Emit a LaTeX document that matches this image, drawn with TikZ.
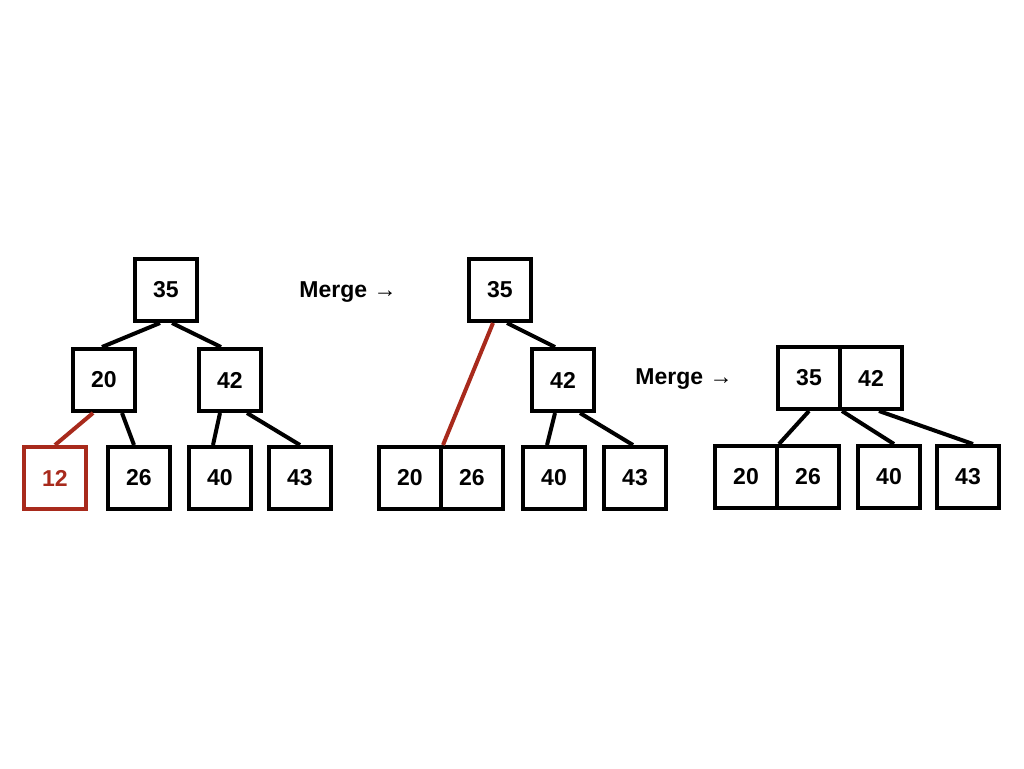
\documentclass[tikz,border=0pt]{standalone}
\usepackage{fontspec}
\setmainfont{Liberation Sans}
\usetikzlibrary{positioning}
\definecolor{dropred}{RGB}{168,42,28}

\begin{document}
\begin{tikzpicture}[x=0.5pt, y=-0.5pt, on grid, line width=2pt,
    key/.style={draw, minimum size=31pt, inner sep=0pt, font=\bfseries\fontsize{11.5}{13}\selectfont},
    gone/.style={key, draw=dropred, text=dropred},
    step label/.style={font=\bfseries\fontsize{11.5}{13}\selectfont}]
  \useasboundingbox (0,0) rectangle (1024,768);

  % before the merge
  \node[key] (A35) at (166,290) {35};
  \node[key] (A20) at (104,380) {20};
  \node[key] (A42) at (230,380) {42};
  \node[gone] (A12) at (55,478) {12};
  \node[key, right=42pt of A12] (A26) {26};
  \node[key, right=40.5pt of A26] (A40) {40};
  \node[key, right=40pt of A40] (A43) {43};

  \draw ([xshift=-3pt]A35.south) -- ([xshift=-1pt]A20.north);
  \draw ([xshift=3pt]A35.south) -- ([xshift=-4.5pt]A42.north);
  \draw[dropred] ([xshift=-5.5pt]A20.south) -- (A12.north);
  \draw ([xshift=9pt]A20.south) -- ([xshift=-2.5pt]A26.north);
  \draw ([xshift=-5pt]A42.south) -- ([xshift=-3.5pt]A40.north);
  \draw ([xshift=8.5pt]A42.south) -- (A43.north);

  \node[step label] (M1) at (348,292) {Merge →};

  % 20 and 26 merged
  \node[key] (B35) at (500,290) {35};
  \node[key] (B42) at (563,380) {42};
  \node[key] (B20) at (410,478) {20};
  \node[key, right=31pt of B20] (B26) {26};
  \node[key] (B40) at (554,478) {40};
  \node[key, right=40.5pt of B40] (B43) {43};

  \draw[dropred] ([xshift=-3.5pt]B35.south) -- (B20.north east);
  \draw ([xshift=3.5pt]B35.south) -- ([xshift=-4pt]B42.north);
  \draw ([xshift=-4pt]B42.south) -- ([xshift=-3.5pt]B40.north);
  \draw ([xshift=8.5pt]B42.south) -- ([xshift=-1pt]B43.north);

  \node[step label] (M2) at (684,379) {Merge →};

  % 35 and 42 merged
  \node[key] (C35) at (809,378) {35};
  \node[key, right=31pt of C35] (C42) {42};
  \node[key] (C20) at (746,477) {20};
  \node[key, right=31pt of C20] (C26) {26};
  \node[key] (C40) at (889,477) {40};
  \node[key, right=39.5pt of C40] (C43) {43};

  \draw (C35.south) -- (C20.north east);
  \draw (C35.south east) -- ([xshift=2.5pt]C40.north);
  \draw ([xshift=4pt]C42.south) -- ([xshift=2.5pt]C43.north);
\end{tikzpicture}
\end{document}
